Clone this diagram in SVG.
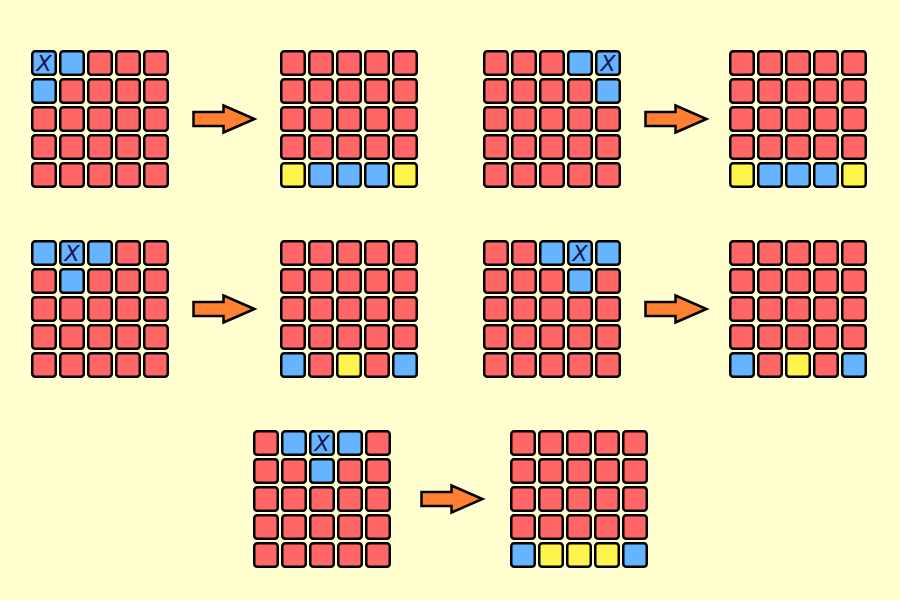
<svg xmlns="http://www.w3.org/2000/svg" xmlns:xlink="http://www.w3.org/1999/xlink" width="900" height="600" viewBox="0 0 900 600">
<style>
.r{fill:#FF6666}
.b{fill:#66B3FF}
.y{fill:#FFF44D}
.x{font-family:"DejaVu Sans",sans-serif;font-style:italic;font-size:22px;fill:#14144F;text-anchor:middle}
.arrow{fill:#FF8030;stroke:#000;stroke-width:2.5;stroke-linejoin:miter}
</style>
<defs>
<rect id="c" x="1.25" y="1.25" width="23.5" height="23.5" rx="3" stroke="#000" stroke-width="2.5"/>
<g id="redrows">
<use href="#c" class="r" x="0" y="0"/><use href="#c" class="r" x="28" y="0"/><use href="#c" class="r" x="56" y="0"/><use href="#c" class="r" x="84" y="0"/><use href="#c" class="r" x="112" y="0"/>
<use href="#c" class="r" x="0" y="28"/><use href="#c" class="r" x="28" y="28"/><use href="#c" class="r" x="56" y="28"/><use href="#c" class="r" x="84" y="28"/><use href="#c" class="r" x="112" y="28"/>
<use href="#c" class="r" x="0" y="56"/><use href="#c" class="r" x="28" y="56"/><use href="#c" class="r" x="56" y="56"/><use href="#c" class="r" x="84" y="56"/><use href="#c" class="r" x="112" y="56"/>
<use href="#c" class="r" x="0" y="84"/><use href="#c" class="r" x="28" y="84"/><use href="#c" class="r" x="56" y="84"/><use href="#c" class="r" x="84" y="84"/><use href="#c" class="r" x="112" y="84"/>
</g>
<g id="lowrows">
<use href="#c" class="r" x="0" y="56"/><use href="#c" class="r" x="28" y="56"/><use href="#c" class="r" x="56" y="56"/><use href="#c" class="r" x="84" y="56"/><use href="#c" class="r" x="112" y="56"/>
<use href="#c" class="r" x="0" y="84"/><use href="#c" class="r" x="28" y="84"/><use href="#c" class="r" x="56" y="84"/><use href="#c" class="r" x="84" y="84"/><use href="#c" class="r" x="112" y="84"/>
<use href="#c" class="r" x="0" y="112"/><use href="#c" class="r" x="28" y="112"/><use href="#c" class="r" x="56" y="112"/><use href="#c" class="r" x="84" y="112"/><use href="#c" class="r" x="112" y="112"/>
</g>
<path id="arr" d="M0,-7 H30 V-13.5 L61,0 L30,13.5 V7 H0 Z"/>
</defs>
<rect width="900" height="600" fill="#FFFFD0"/>

<g id="g1" transform="translate(31,50)">
<use href="#c" class="b" x="0" y="0"/><use href="#c" class="b" x="28" y="0"/><use href="#c" class="r" x="56" y="0"/><use href="#c" class="r" x="84" y="0"/><use href="#c" class="r" x="112" y="0"/>
<use href="#c" class="b" x="0" y="28"/><use href="#c" class="r" x="28" y="28"/><use href="#c" class="r" x="56" y="28"/><use href="#c" class="r" x="84" y="28"/><use href="#c" class="r" x="112" y="28"/>
<use href="#lowrows"/>
<text class="x" x="13" y="21">X</text>
</g>
<g id="g2" transform="translate(280,50)">
<use href="#redrows"/>
<use href="#c" class="y" x="0" y="112"/><use href="#c" class="b" x="28" y="112"/><use href="#c" class="b" x="56" y="112"/><use href="#c" class="b" x="84" y="112"/><use href="#c" class="y" x="112" y="112"/>
</g>
<g id="g3" transform="translate(483,50)">
<use href="#c" class="r" x="0" y="0"/><use href="#c" class="r" x="28" y="0"/><use href="#c" class="r" x="56" y="0"/><use href="#c" class="b" x="84" y="0"/><use href="#c" class="b" x="112" y="0"/>
<use href="#c" class="r" x="0" y="28"/><use href="#c" class="r" x="28" y="28"/><use href="#c" class="r" x="56" y="28"/><use href="#c" class="r" x="84" y="28"/><use href="#c" class="b" x="112" y="28"/>
<use href="#lowrows"/>
<text class="x" x="125" y="21">X</text>
</g>
<g id="g4" transform="translate(729,50)">
<use href="#redrows"/>
<use href="#c" class="y" x="0" y="112"/><use href="#c" class="b" x="28" y="112"/><use href="#c" class="b" x="56" y="112"/><use href="#c" class="b" x="84" y="112"/><use href="#c" class="y" x="112" y="112"/>
</g>

<g id="g5" transform="translate(31,240)">
<use href="#c" class="b" x="0" y="0"/><use href="#c" class="b" x="28" y="0"/><use href="#c" class="b" x="56" y="0"/><use href="#c" class="r" x="84" y="0"/><use href="#c" class="r" x="112" y="0"/>
<use href="#c" class="r" x="0" y="28"/><use href="#c" class="b" x="28" y="28"/><use href="#c" class="r" x="56" y="28"/><use href="#c" class="r" x="84" y="28"/><use href="#c" class="r" x="112" y="28"/>
<use href="#lowrows"/>
<text class="x" x="41" y="21">X</text>
</g>
<g id="g6" transform="translate(280,240)">
<use href="#redrows"/>
<use href="#c" class="b" x="0" y="112"/><use href="#c" class="r" x="28" y="112"/><use href="#c" class="y" x="56" y="112"/><use href="#c" class="r" x="84" y="112"/><use href="#c" class="b" x="112" y="112"/>
</g>
<g id="g7" transform="translate(483,240)">
<use href="#c" class="r" x="0" y="0"/><use href="#c" class="r" x="28" y="0"/><use href="#c" class="b" x="56" y="0"/><use href="#c" class="b" x="84" y="0"/><use href="#c" class="b" x="112" y="0"/>
<use href="#c" class="r" x="0" y="28"/><use href="#c" class="r" x="28" y="28"/><use href="#c" class="r" x="56" y="28"/><use href="#c" class="b" x="84" y="28"/><use href="#c" class="r" x="112" y="28"/>
<use href="#lowrows"/>
<text class="x" x="97" y="21">X</text>
</g>
<g id="g8" transform="translate(729,240)">
<use href="#redrows"/>
<use href="#c" class="b" x="0" y="112"/><use href="#c" class="r" x="28" y="112"/><use href="#c" class="y" x="56" y="112"/><use href="#c" class="r" x="84" y="112"/><use href="#c" class="b" x="112" y="112"/>
</g>

<g id="g9" transform="translate(253,430)">
<use href="#c" class="r" x="0" y="0"/><use href="#c" class="b" x="28" y="0"/><use href="#c" class="b" x="56" y="0"/><use href="#c" class="b" x="84" y="0"/><use href="#c" class="r" x="112" y="0"/>
<use href="#c" class="r" x="0" y="28"/><use href="#c" class="r" x="28" y="28"/><use href="#c" class="b" x="56" y="28"/><use href="#c" class="r" x="84" y="28"/><use href="#c" class="r" x="112" y="28"/>
<use href="#lowrows"/>
<text class="x" x="69" y="21">X</text>
</g>
<g id="g10" transform="translate(510,430)">
<use href="#redrows"/>
<use href="#c" class="b" x="0" y="112"/><use href="#c" class="y" x="28" y="112"/><use href="#c" class="y" x="56" y="112"/><use href="#c" class="y" x="84" y="112"/><use href="#c" class="b" x="112" y="112"/>
</g>

<g id="connectors">
<use href="#arr" class="arrow" transform="translate(193.5,119)"/>
<use href="#arr" class="arrow" transform="translate(645.5,119)"/>
<use href="#arr" class="arrow" transform="translate(193.5,309)"/>
<use href="#arr" class="arrow" transform="translate(645.5,309)"/>
<use href="#arr" class="arrow" transform="translate(421.5,499)"/>
</g>
</svg>
